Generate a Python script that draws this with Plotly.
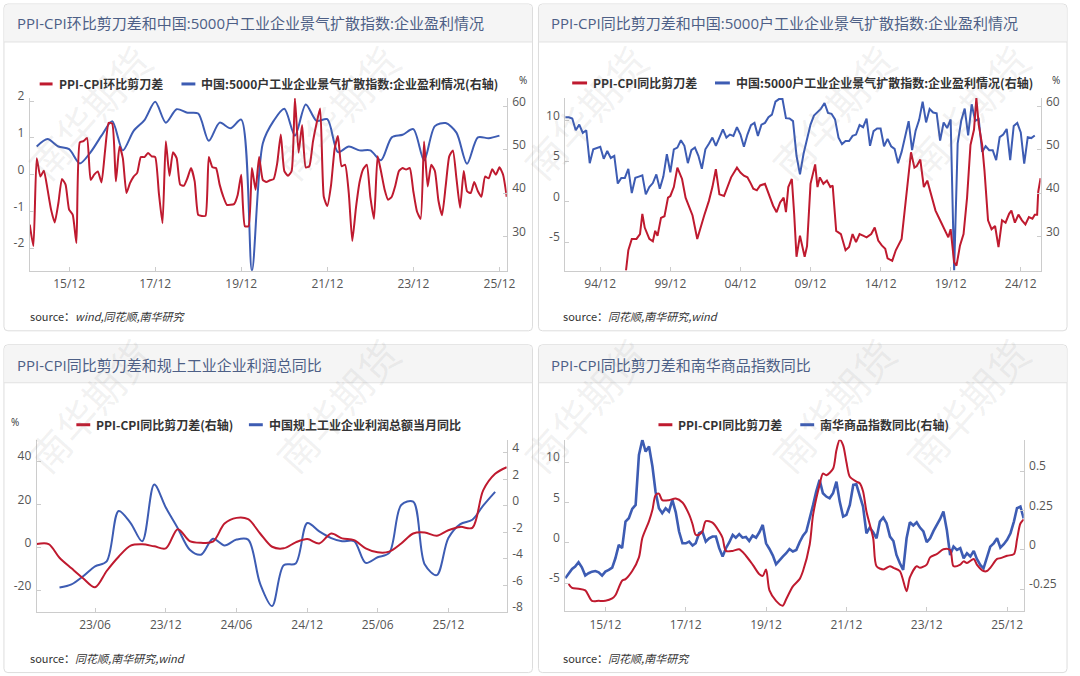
import pandas as pd
import plotly.graph_objects as go

# ---------------------------------------------------------------- data
tl_red_start = "2015-01-01"
tl_red = [-1.36, -1.94, 0.45, -0.05, 0.11, -0.4, -0.95, -1.3, -0.77, -0.12, -0.27, -0.95,
          -1.09, -1.86, 0.88, 0.91, 1.0, -0.14, 0.0, 0.09, -0.21, 0.64, 1.41, 1.39,
          -0.18, 0.77, 0.45, -0.5, -0.23, -0.05, 0.05, 0.48, 0.48, 0.59, 0.5, 0.48,
          -0.5, -1.32, 0.91, -0.03, 0.61, 0.45, -0.27, -0.3, -0.09, 0.18, -0.18, -1.09,
          -1.12, -1.12, 0.48, 0.2, 0.18, -0.27, -0.59, -0.82, -0.82, -0.8, -0.55, 0.0,
          -1.4, -1.4, 0.18, -0.41, 0.48, -0.14, -0.2, -0.15, -0.12, 0.3, 1.09, 0.1,
          -0.03, 0.1, 2.08, 0.6, 1.35, 0.2, 0.23, 0.9, 1.4, 1.8, -0.6, -0.85,
          -0.3, 0.7, 1.05, 0.23, 0.27, -0.5, -1.8, -0.9, -0.2, 0.15, 0.27, -0.6,
          -1.2, 0.5, 0.1, -0.4, -0.68, -0.6, -0.3, 0.1, 0.18, 0.14, 0.18, -0.45,
          -1.0, -1.2, 0.9, -0.32, 0.27, 0.1, -0.7, -1.1, -0.3, 0.5, 0.66, -0.1,
          -0.9, 0.1, -0.45, -0.5, -0.2, -0.45, -0.6, -0.05, -0.1, 0.15, 0.0, 0.2,
          0.0, -0.6]
tl_blue_start = "2015-03-01"
tl_blue = [50.8, 52.5, 50.8, 50.2, 46.9, 49.5, 53.3, 56.6, 49.9, 54.4, 56.9, 61.1,
           56.3, 59.4, 58.6, 58.4, 52.1, 56.3, 55.0, 57.0, 22.1, 51.5, 56.7, 59.5,
           53.3, 60.5, 56.7, 57.1, 49.5, 50.8, 49.9, 49.9, 47.6, 52.9, 53.5, 54.8,
           47.6, 55.5, 56.2, 54.0, 46.8, 52.9, 52.7, 53.3]

tr_blue_start = "1992-06-01"
tr_blue = [57.5, 57.5, 57.2, 54.5, 55.8, 53.9, 54.5, 46.9, 50.1, 50.4, 50.7, 47.9,
           49.7, 48.1, 48.6, 42.2, 43.5, 43.5, 45.6, 40.0, 43.5, 43.8, 44.1, 39.7,
           41.4, 42.3, 44.3, 41.0, 43.8, 49.0, 44.8, 50.1, 50.5, 52.2, 50.9, 46.9,
           49.9, 50.5, 48.6, 45.6, 50.1, 51.4, 52.8, 50.9, 52.9, 54.7, 52.8, 53.5,
           53.2, 55.2, 53.5, 50.7, 53.5, 55.7, 56.2, 53.2, 55.8, 56.2, 57.5, 58.1,
           61.1, 61.7, 61.7, 57.3, 57.2, 56.6, 48.6,
           44.3, 49.0, 52.8, 55.8, 57.9, 58.7, 59.5, 60.8, 58.5, 58.3, 57.0, 52.8,
           51.3, 52.0, 52.0, 53.2, 53.5, 55.7, 55.2, 57.2, 50.9, 54.3, 54.9, 54.9,
           50.8, 52.5, 50.8, 50.2, 46.9, 49.5, 53.3, 56.6, 49.9, 54.4, 56.9, 61.1,
           56.3, 59.4, 58.6, 58.4, 52.1, 56.3, 55.0, 57.0, 22.1, 51.5, 56.7, 59.5,
           53.3, 60.5, 56.7, 57.1, 49.5, 50.8, 49.9, 49.9, 47.6, 52.9, 53.5, 54.8,
           47.6, 55.5, 56.2, 54.0, 46.8, 52.9, 52.7, 53.3]
tr_red_dates = ["1996-10", "1996-12", "1997-03", "1997-07", "1997-10", "1997-12", "1998-02",
                "1998-06", "1998-09", "1998-11", "1999-01", "1999-04", "1999-07", "1999-10",
                "1999-12", "2000-03", "2000-06", "2000-08", "2000-10", "2001-01", "2001-04",
                "2001-07", "2001-11", "2002-02", "2002-05", "2002-09", "2002-12", "2003-03",
                "2003-06", "2003-10", "2004-01", "2004-04", "2004-09", "2004-12", "2005-03",
                "2005-06", "2005-09", "2005-11", "2006-02", "2006-05", "2006-09", "2007-02",
                "2007-04", "2007-07", "2007-10", "2008-01", "2008-03", "2008-05", "2008-08",
                "2008-10", "2008-12", "2009-03", "2009-05", "2009-07", "2009-09", "2009-12",
                "2010-04", "2010-06", "2010-08", "2010-11", "2011-02", "2011-05", "2011-07",
                "2011-10", "2012-02", "2012-06", "2012-09", "2012-12", "2013-03", "2013-06",
                "2013-09", "2013-12", "2014-04", "2014-07", "2014-10", "2015-01", "2015-04",
                "2015-06", "2015-10", "2016-01", "2016-06", "2016-08", "2016-11", "2017-02",
                "2017-05", "2017-07", "2017-10", "2018-01", "2018-04", "2018-07", "2018-11",
                "2019-03", "2019-07", "2019-10", "2019-12", "2020-03", "2020-05", "2020-08",
                "2020-11", "2021-02", "2021-05", "2021-08", "2021-10", "2021-12", "2022-03",
                "2022-05", "2022-08", "2022-11", "2023-02", "2023-05", "2023-08", "2023-11",
                "2024-02", "2024-04", "2024-07", "2024-10", "2025-01", "2025-04", "2025-07",
                "2025-10", "2025-12", "2026-02", "2026-03", "2026-04", "2026-05"]
tr_red = [-8.5, -6.0, -4.6, -4.6, -4.0, -1.5, -3.2, -4.6, -4.9, -3.6, -4.2, -2.0, -1.8, 0.5,
          0.7, 1.8, 4.2, 3.4, 2.8, 0.5, -0.5, -1.7, -4.6, -3.0, -1.7, 0.1, 1.8, 4.0,
          0.9, 0.7, 1.8, 3.0, 4.2, 3.6, 3.2, 3.0, 2.2, 1.6, 1.4, 2.0, 2.2, 0.3,
          -0.5, -1.3, -0.1, 0.5, -1.3, 1.8, 2.8, -1.5, -6.8, -4.2, -5.4, -6.8, -5.5, 2.2,
          4.6, 1.8, 3.0, 2.2, 2.6, 1.8, 2.0, -3.6, -4.0, -6.0, -5.6, -4.0, -5.0, -4.0,
          -4.2, -4.4, -4.0, -3.2, -4.8, -5.4, -5.8, -7.0, -7.3, -6.0, -4.6, -1.9, 1.8, 6.1,
          4.2, 4.4, 5.2, 1.8, 2.6, 0.9, -1.1, -2.3, -3.6, -4.4, -3.4, -7.5, -7.9, -5.4,
          -4.0, 0.5, 7.0, 8.9, 12.8, 9.5, 7.0, 3.8, -2.3, -3.4, -3.0, -5.6, -2.3, -2.6,
          -1.5, -1.1, -2.6, -1.6, -2.3, -2.8, -1.9, -2.1, -1.6, -1.6, 1.2, 2.4, 2.9]

bl_red_start = "2023-01-01"
bl_red = [-2.88, -2.88, -3.91, -4.71, -5.46, -6.14, -4.91, -3.83, -3.0, -2.9, -3.05, -3.2,
          -1.75, -2.65, -2.78, -2.7, -1.33, -0.9, -1.0, -2.08, -3.08, -3.2, -2.75, -2.5,
          -2.83, -2.08, -2.45, -2.58, -3.2, -3.5, -3.45, -2.83, -2.08, -2.0, -2.25, -1.83,
          -1.58, -1.65, 1.18, 2.43, 2.93]
bl_blue_start = "2023-03-01"
bl_blue = [-18.7, -17.2, -13.4, -8.8, -6.5, 16.9, 11.3, 2.8, 29.2, 18.5, 8.9, -1.1,
           -3.4, 4.0, 0.9, 3.6, 3.6, -16.9, -27.3, -8.3, -7.5, 11.3, 7.4, 4.3,
           2.8, 2.9, -7.2, -4.6, -2.6, 19.7, 21.2, -8.0, -12.9, 4.3, 10.8, 12.8,
           19.4, 25.8]

br_red_dates = ["2015-01", "2015-02", "2015-04", "2015-06", "2015-08", "2015-10", "2015-12",
                "2016-02", "2016-03", "2016-05", "2016-06", "2016-08", "2016-10", "2016-11",
                "2017-01", "2017-02", "2017-03", "2017-04", "2017-05", "2017-07", "2017-09",
                "2017-11", "2018-01", "2018-02", "2018-03", "2018-04", "2018-05", "2018-06",
                "2018-08", "2018-10", "2018-11", "2018-12", "2019-02", "2019-04", "2019-06",
                "2019-08", "2019-10", "2019-11", "2019-12", "2020-01", "2020-03", "2020-05",
                "2020-06", "2020-08", "2020-10", "2020-11", "2021-01", "2021-02", "2021-04",
                "2021-05", "2021-06", "2021-08", "2021-09", "2021-10", "2021-11", "2021-12",
                "2022-01", "2022-03", "2022-04", "2022-05", "2022-06", "2022-08", "2022-09",
                "2022-11", "2023-01", "2023-02", "2023-04", "2023-06", "2023-07", "2023-09",
                "2023-10", "2023-12", "2024-01", "2024-03", "2024-05", "2024-07", "2024-08",
                "2024-10", "2024-11", "2024-12", "2025-02", "2025-03", "2025-05", "2025-06",
                "2025-07", "2025-09", "2025-10", "2025-12", "2026-02", "2026-03", "2026-04",
                "2026-05"]
br_red = [-5.1, -5.6, -5.7, -5.9, -7.2, -7.2, -7.2, -6.9, -6.5, -4.7, -4.5, -3.5, -1.8, 0.6,
          2.7, 4.1, 5.9, 6.1, 5.3, 5.3, 5.5, 5.0, 3.5, 2.3, 1.0, 1.0, 1.4, 2.7,
          2.5, 1.4, 0.6, -1.0, -1.0, -0.8, -1.6, -2.7, -3.9, -4.1, -3.3, -5.9, -7.2, -7.8,
          -7.0, -5.4, -4.5, -3.5, -0.2, 3.5, 7.2, 8.6, 8.4, 9.2, 11.5, 12.8, 12.1, 10.0,
          8.2, 7.6, 7.4, 6.4, 3.9, 0.6, -2.9, -3.3, -2.9, -3.1, -3.5, -6.0, -4.3, -2.9,
          -3.1, -2.7, -1.8, -1.4, -0.8, -0.9, -2.9, -2.7, -2.3, -2.5, -2.0, -2.7, -3.5, -3.5,
          -3.1, -2.0, -1.9, -1.6, -1.4, 0.4, 2.4, 2.9]
br_blue_start = "2014-12-01"
br_blue = [-0.18, -0.148, -0.121, -0.106, -0.078, -0.11, -0.163, -0.148, -0.138, -0.134,
           -0.142, -0.163, -0.138, -0.127, -0.112, -0.053, 0.032, 0.011, 0.18, 0.201,
           0.261, 0.286, 0.604, 0.70, 0.625, 0.657, 0.53, 0.371, 0.265, 0.233,
           0.265, 0.244, 0.318, 0.239, 0.117, 0.042, 0.042, 0.053, 0.028, 0.042,
           0.106, 0.117, 0.053, 0.074, 0.085, 0.085, 0.011, -0.042, 0.011, 0.049,
           0.095, 0.078, 0.1, 0.078, 0.083, 0.057, 0.091, 0.078, 0.112, 0.159,
           0.042, 0.006, -0.036, -0.091, -0.064, -0.042, -0.021, 0.006, -0.01, 0.0,
           0.049, 0.091, 0.117, 0.212, 0.286, 0.371, 0.445, 0.36, 0.339, 0.328,
           0.36, 0.434, 0.307, 0.212, 0.223, 0.286, 0.413, 0.417, 0.339, 0.275,
           0.106, 0.142, 0.112, 0.074, 0.18, 0.206, 0.17, 0.085, 0.057, -0.032,
           -0.085, -0.127, 0.074, 0.176, 0.155, 0.176, 0.142, 0.117, 0.049, 0.074,
           0.121, 0.155, 0.197, 0.244, 0.127, -0.032, 0.021, 0.0, 0.011, -0.053,
           -0.021, -0.042, -0.006, -0.057, -0.095, -0.117, -0.042, 0.021, 0.042, 0.074,
           0.015, 0.036, 0.064, 0.106, 0.18, 0.265, 0.275, 0.201]

titles = ["PPI-CPI环比剪刀差和中国:5000户工业企业景气扩散指数:企业盈利情况",
          "PPI-CPI同比剪刀差和中国:5000户工业企业景气扩散指数:企业盈利情况",
          "PPI-CPI同比剪刀差和规上工业企业利润总同比",
          "PPI-CPI同比剪刀差和南华商品指数同比"]
legend_names = [("PPI-CPI环比剪刀差", "中国:5000户工业企业景气扩散指数:企业盈利情况(右轴)"),
                ("PPI-CPI同比剪刀差", "中国:5000户工业企业景气扩散指数:企业盈利情况(右轴)"),
                ("PPI-CPI同比剪刀差(右轴)", "中国规上工业企业利润总额当月同比"),
                ("PPI-CPI同比剪刀差", "南华商品指数同比(右轴)")]
sources = ["source：<i>wind,同花顺,南华研究</i>",
           "source：<i>同花顺,南华研究,wind</i>",
           "source：<i>同花顺,南华研究,wind</i>",
           "source：<i>同花顺,南华研究</i>"]

# ---------------------------------------------------------------- style
# positions below are given in pixels of the 1080 x 676 reference picture; the page is
# photographed with an ~11 px top offset and a 0.98 vertical scale, compensated here.
RW = 1080
W, H = 1080, 679
Y_OFF, Y_SC = 11.0, 0.98
RED = "#bf1a2f"
BLUE = "#3d5cb3"
AX = "#cccccc"
TXT = "#555555"
FONT = "Open Sans, Noto Sans CJK SC, sans-serif"
CJK = "Noto Sans CJK SC, sans-serif"


def fx(p):
    return p / RW


def fy(p):
    return 1 - ((p - Y_OFF) / Y_SC) / H


fig = go.Figure()
LW = 2
fig.add_trace(go.Scatter(x=pd.date_range(tl_blue_start, periods=len(tl_blue), freq="3MS"), y=tl_blue,
                         mode="lines", line=dict(color=BLUE, shape="spline", smoothing=0.8, width=LW),
                         xaxis="x", yaxis="y", showlegend=False, name=legend_names[0][1]))
fig.add_trace(go.Scatter(x=pd.date_range(tl_red_start, periods=len(tl_red), freq="MS"), y=tl_red,
                         mode="lines", line=dict(color=RED, shape="spline", smoothing=0.5, width=LW),
                         xaxis="x", yaxis="y2", showlegend=False, name=legend_names[0][0]))
fig.add_trace(go.Scatter(x=pd.date_range(tr_blue_start, periods=len(tr_blue), freq="3MS"), y=tr_blue,
                         mode="lines", line=dict(color=BLUE, width=LW),
                         xaxis="x2", yaxis="y3", showlegend=False, name=legend_names[1][1]))
fig.add_trace(go.Scatter(x=pd.to_datetime(tr_red_dates, format="%Y-%m"), y=tr_red,
                         mode="lines", line=dict(color=RED, width=LW),
                         xaxis="x2", yaxis="y4", showlegend=False, name=legend_names[1][0]))
fig.add_trace(go.Scatter(x=pd.date_range(bl_blue_start, periods=len(bl_blue), freq="MS"), y=bl_blue,
                         mode="lines", line=dict(color=BLUE, shape="spline", smoothing=0.9, width=LW),
                         xaxis="x3", yaxis="y5", showlegend=False, name=legend_names[2][1]))
fig.add_trace(go.Scatter(x=pd.date_range(bl_red_start, periods=len(bl_red), freq="MS"), y=bl_red,
                         mode="lines", line=dict(color=RED, shape="spline", smoothing=0.9, width=LW),
                         xaxis="x3", yaxis="y6", showlegend=False, name=legend_names[2][0]))
fig.add_trace(go.Scatter(x=pd.date_range(br_blue_start, periods=len(br_blue), freq="MS"), y=br_blue,
                         mode="lines", line=dict(color=BLUE, width=2.6),
                         xaxis="x4", yaxis="y7", showlegend=False, name=legend_names[3][1]))
fig.add_trace(go.Scatter(x=pd.to_datetime(br_red_dates, format="%Y-%m"), y=br_red,
                         mode="lines", line=dict(color=RED, shape="spline", smoothing=0.8, width=LW),
                         xaxis="x4", yaxis="y8", showlegend=False, name=legend_names[3][0]))


def xax(x0, x1, y_anchor, rng, tick0, dtick):
    return dict(domain=[fx(x0), fx(x1)], anchor=y_anchor, type="date", range=rng,
                tick0=tick0, dtick=dtick, tickformat="%y/%m", showgrid=False, zeroline=False,
                showline=True, linecolor=AX, linewidth=1, ticks="inside", ticklen=4,
                tickcolor=AX, tickfont=dict(family=FONT, size=12, color=TXT),
                ticklabelstandoff=2, fixedrange=True)


def yax(**kw):
    d = dict(showgrid=False, zeroline=False, showline=True, linecolor=AX, linewidth=1,
             ticks="inside", ticklen=4, tickcolor=AX,
             tickfont=dict(family=FONT, size=12, color=TXT),
             ticklabelshift=-5, ticklabelstandoff=2, fixedrange=True, autorange=False)
    d.update(kw)
    return d


def tv(vals):
    return dict(tickmode="array", tickvals=vals, ticktext=[f"{v:g}" for v in vals])


fig.update_layout(
    xaxis=xax(30, 511, "y", ["2015-01-01", "2026-02-01"], "2015-12-01", "M24"),
    yaxis=yax(domain=[fy(271), fy(98)], anchor="x", side="right", range=[22.1, 62.0], **tv([30, 40, 50, 60])),
    yaxis2=yax(overlaying="y", anchor="x", side="left", range=[-2.614, 2.087], **tv([-2, -1, 0, 1, 2])),
    xaxis2=xax(570, 1049.3, "y3", ["1992-06-01", "2026-05-01"], "1994-12-01", "M60"),
    yaxis3=yax(domain=[fy(270.7), fy(98)], anchor="x2", side="right", range=[22.1, 61.96], **tv([30, 40, 50, 60])),
    yaxis4=yax(overlaying="y3", anchor="x2", side="left", range=[-8.5, 12.8], **tv([-5, 0, 5, 10])),
    xaxis3=xax(37, 511, "y5", ["2023-01-01", "2026-05-01"], "2023-06-01", "M6"),
    yaxis5=yax(domain=[fy(612.3), fy(440)], anchor="x3", side="left", range=[-30, 50], **tv([-20, 0, 20, 40])),
    yaxis6=yax(overlaying="y5", anchor="x3", side="right", range=[-8, 5], **tv([-8, -6, -4, -2, 0, 2, 4])),
    xaxis4=xax(570, 1032.3, "y7", ["2014-12-01", "2026-05-01"], "2015-12-01", "M24"),
    yaxis7=yax(domain=[fy(611.7), fy(440)], anchor="x4", side="right", range=[-0.39, 0.70], **tv([-0.25, 0, 0.25, 0.5])),
    yaxis8=yax(overlaying="y7", anchor="x4", side="left", range=[-8.5, 12.8], **tv([-5, 0, 5, 10])),
)

shapes = []
annotations = []


def rr_path(x0, y0, x1, y1, r, bottom_round=True):
    X = fx
    Y = fy
    p = f"M {X(x0 + r)},{Y(y0)} L {X(x1 - r)},{Y(y0)} Q {X(x1)},{Y(y0)} {X(x1)},{Y(y0 + r)} "
    if bottom_round:
        p += (f"L {X(x1)},{Y(y1 - r)} Q {X(x1)},{Y(y1)} {X(x1 - r)},{Y(y1)} L {X(x0 + r)},{Y(y1)} "
              f"Q {X(x0)},{Y(y1)} {X(x0)},{Y(y1 - r)} ")
    else:
        p += f"L {X(x1)},{Y(y1)} L {X(x0)},{Y(y1)} "
    p += f"L {X(x0)},{Y(y0 + r)} Q {X(x0)},{Y(y0)} {X(x0 + r)},{Y(y0)} Z"
    return p


frames = [(4, 4, 537, 331, 42), (543, 4, 1076, 331, 42),
          (4, 345, 537, 673, 383), (543, 345, 1076, 673, 383)]
for (x0, y0, x1, y1, tb) in frames:
    shapes.append(dict(type="path", xref="paper", yref="paper", path=rr_path(x0, y0, x1, y1, 4),
                       fillcolor="white", line=dict(color="#dddddd", width=1), layer="below"))
    shapes.append(dict(type="path", xref="paper", yref="paper",
                       path=rr_path(x0 + 0.5, y0 + 0.5, x1 - 0.5, tb, 4, bottom_round=False),
                       fillcolor="#f5f5f5", line=dict(width=0), layer="below"))
    shapes.append(dict(type="line", xref="paper", yref="paper", x0=fx(x0), x1=fx(x1), y0=fy(tb), y1=fy(tb),
                       line=dict(color="#e2e2e2", width=1), layer="below"))

title_pos = [(15, 23), (554, 23), (15, 365), (554, 365)]
for t, (x, y) in zip(titles, title_pos):
    annotations.append(dict(text=t, x=fx(x), y=fy(y), xref="paper", yref="paper", xanchor="left",
                            yanchor="middle", showarrow=False,
                            font=dict(family=FONT, size=15, color="#4d5f86")))

leg_pos = [(40, 53, 57, 183, 197, 201, 84),
           (577, 592, 596, 721, 736, 740, 83),
           (77, 91, 95, 251, 265, 269, 425),
           (664, 678, 682, 807, 821, 825, 425)]
for (names, (rx0, rx1, rtx, bx0, bx1, btx, y)) in zip(legend_names, leg_pos):
    for (lx0, lx1, tx, col, name) in [(rx0, rx1, rtx, RED, names[0]), (bx0, bx1, btx, BLUE, names[1])]:
        shapes.append(dict(type="line", xref="paper", yref="paper", x0=fx(lx0), x1=fx(lx1),
                           y0=fy(y), y1=fy(y), line=dict(color=col, width=3)))
        annotations.append(dict(text=f"<b>{name}</b>", x=fx(tx), y=fy(y), xref="paper", yref="paper",
                                xanchor="left", yanchor="middle", showarrow=False,
                                font=dict(family=CJK, size=12, color="#333333")))

for (x, y) in [(527, 80), (1065, 80), (15, 422)]:
    annotations.append(dict(text="%", x=fx(x), y=fy(y), xref="paper", yref="paper", xanchor="center",
                            yanchor="middle", showarrow=False, font=dict(family=FONT, size=10, color="#333333")))

for s, (x, y) in zip(sources, [(28, 316), (566, 316), (28, 658), (566, 658)]):
    annotations.append(dict(text=s, x=fx(x), y=fy(y), xref="paper", yref="paper", xanchor="left",
                            yanchor="middle", showarrow=False, font=dict(family=CJK, size=11, color="#333333")))

for cy in (112, 405):
    for cx in (90, 340, 590, 840, 975):
        annotations.append(dict(text="南华期货", x=fx(cx), y=fy(cy), xref="paper", yref="paper",
                                xanchor="center", yanchor="middle", showarrow=False, textangle=-48,
                                font=dict(family=CJK, size=40, color="rgba(120,120,120,0.10)")))

fig.update_layout(width=W, height=H, margin=dict(l=0, r=0, t=0, b=0), paper_bgcolor="white",
                  plot_bgcolor="rgba(0,0,0,0)", showlegend=False, shapes=shapes, annotations=annotations)

fig.write_html("out.html")
